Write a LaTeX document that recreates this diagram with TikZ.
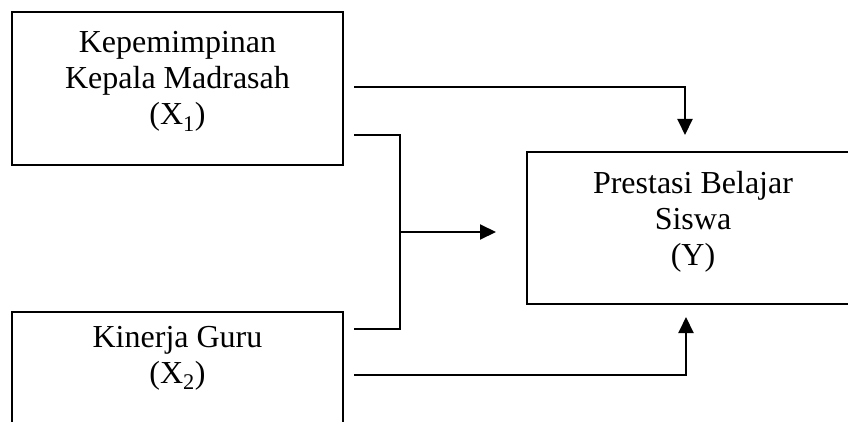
\documentclass[tikz,border=0pt]{standalone}
\usepackage{fontspec}
\setmainfont{Liberation Serif}
\usetikzlibrary{arrows.meta}
\begin{document}
\begin{tikzpicture}[x=1pt,y=-1pt,
  box/.style={draw,line width=2pt,rectangle,inner sep=0pt},
  lbl/.style={align=center,inner sep=0pt,font=\fontsize{32}{36}\selectfont},
  conn/.style={line width=2pt},
  arr/.style={conn,-{Triangle[length=16pt,width=15pt]}}]
  \clip (0,0) rectangle (848,422);
  \fill[white] (0,0) rectangle (848,422);

  % boxes
  \node[box,minimum width=331pt,minimum height=153pt] (x1) at (177.5,88.5) {};
  \node[box,minimum width=331pt,minimum height=160pt] (x2) at (177.5,392) {};
  \node[box,minimum width=332pt,minimum height=152pt] (y) at (693,228) {};

  % box texts (base anchor sits on the last line)
  \node[lbl,anchor=base] (t1) at (177.5,125) {Kepemimpinan\\Kepala Madrasah\\(X\textsubscript{1})};
  \node[lbl,anchor=base] (t2) at (177.5,383) {Kinerja Guru\\(X\textsubscript{2})};
  \node[lbl,anchor=base] (ty) at (693,265) {Prestasi Belajar\\Siswa\\(Y)};

  % connector ends
  \coordinate (a1) at (354,87);
  \coordinate (e1) at (685,135);
  \coordinate (b1) at (354,135);
  \coordinate (b2) at (354,329);
  \coordinate (j) at (400,232);
  \coordinate (ej) at (496,232);
  \coordinate (a2) at (354,375);
  \coordinate (e2) at (686,317);

  % connectors
  \draw[arr] (a1) -| (e1);
  \draw[conn] (b1) -| (j) |- (b2);
  \draw[arr] (j) -- (ej);
  \draw[arr] (a2) -| (e2);
\end{tikzpicture}
\end{document}
